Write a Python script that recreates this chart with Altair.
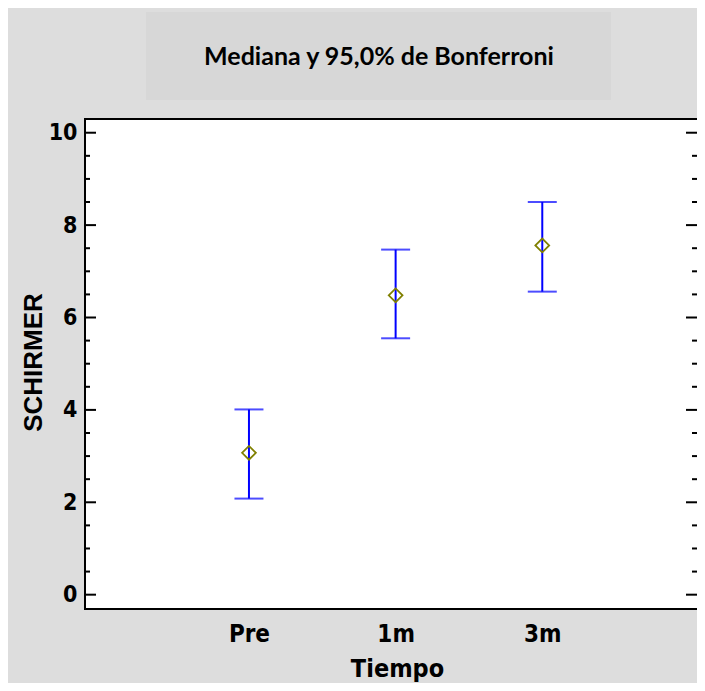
import altair as alt
import pandas as pd

# ---- data ----
categories = ["Pre", "1m", "3m"]
positions = [1, 2, 3]
medians = [3.07, 6.48, 7.56]
lower = [2.08, 5.55, 6.56]
upper = [4.01, 7.47, 8.50]
major_ticks = [0, 2, 4, 6, 8, 10]
minor_ticks = [0.5, 1, 1.5, 2.5, 3, 3.5, 4.5, 5, 5.5, 6.5, 7, 7.5, 8.5, 9, 9.5]
title_text = "Mediana y 95,0% de Bonferroni"
x_title = "Tiempo"
y_title = "SCHIRMER"

df = pd.DataFrame({"cat": categories, "pos": positions, "med": medians,
                   "lo": lower, "hi": upper})
major_df = pd.DataFrame({"v": major_ticks})
minor_df = pd.DataFrame({"v": minor_ticks})
one = pd.DataFrame({"a": [0]})

W, H = 612, 490
NARROW = "Liberation Sans Narrow, Arial Narrow, DejaVu Sans Condensed, Liberation Sans, sans-serif"
SANS = "Liberation Sans, Arial, sans-serif"

xscale = alt.Scale(domain=[-0.118, 4.055], nice=False, zero=False)
yscale = alt.Scale(domain=[-0.31, 10.297], nice=False, zero=False)

label_expr = " : ".join(
    [f"datum.value == {p} ? '{c}'" for p, c in zip(positions, categories)]
) + " : ''"

x_enc = alt.X("pos:Q", scale=xscale, axis=alt.Axis(
    values=positions, labelExpr=label_expr, title=x_title,
    ticks=False, tickSize=0, domain=False, grid=False,
    labelFont=NARROW, labelFontSize=24, labelFontWeight="bold", labelColor="black",
    labelBaseline="middle", labelPadding=25,
    titleFont=NARROW, titleFontSize=25, titleFontWeight="bold", titleColor="black",
    titleX=312, titleY=59, titleBaseline="middle"))

y_enc = alt.Y("med:Q", scale=yscale, axis=alt.Axis(
    values=major_ticks, title=y_title,
    ticks=False, tickSize=0, domain=False, grid=False,
    labelFont=NARROW, labelFontSize=23, labelFontWeight="bold", labelColor="black",
    labelPadding=8,
    titleFont=SANS, titleFontSize=26, titleFontWeight="bold", titleColor="black",
    titleX=-39, titleY=243, titleAngle=-90, titleBaseline="bottom"))

base = alt.Chart(df)
BLUE = "#0000ff"

stem = base.mark_rule(color=BLUE, strokeWidth=2).encode(x=x_enc, y=alt.Y("lo:Q", scale=yscale), y2="hi:Q")
cap_lo = base.mark_tick(orient="horizontal", color=BLUE, thickness=2, size=29).encode(
    x=alt.X("pos:Q", scale=xscale), y=alt.Y("lo:Q", scale=yscale))
cap_hi = base.mark_tick(orient="horizontal", color=BLUE, thickness=2, size=29).encode(
    x=alt.X("pos:Q", scale=xscale), y=alt.Y("hi:Q", scale=yscale))
pts = base.mark_point(shape="diamond", size=190, filled=False, color="#808000",
                      strokeWidth=1.8, opacity=1).encode(x=alt.X("pos:Q", scale=xscale), y=y_enc)

def tick_layer(d, x0, x1):
    return alt.Chart(d).mark_rule(color="black", strokeWidth=2).encode(
        y=alt.Y("v:Q", scale=yscale), x=alt.value(x0), x2=alt.value(x1))

ticks = [
    tick_layer(major_df, 0, 11), tick_layer(major_df, W - 11, W),
    tick_layer(minor_df, 0, 5), tick_layer(minor_df, W - 5, W),
]

frame_left = alt.Chart(one).mark_rule(color="black", strokeWidth=2).encode(
    x=alt.value(0), y=alt.value(0), y2=alt.value(H))
frame_top = alt.Chart(one).mark_rule(color="black", strokeWidth=2).encode(
    x=alt.value(-1), x2=alt.value(W), y=alt.value(0))
frame_bot = alt.Chart(one).mark_rule(color="black", strokeWidth=2).encode(
    x=alt.value(-1), x2=alt.value(W), y=alt.value(H))

title_box = alt.Chart(one).mark_rect(color="#d7d7d7").encode(
    x=alt.value(61), x2=alt.value(526), y=alt.value(-107), y2=alt.value(-19))
title = alt.Chart(pd.DataFrame({"t": [title_text]})).mark_text(
    font="Lato", fontSize=25, fontWeight="bold", color="black",
    align="center", baseline="middle").encode(
    text="t:N", x=alt.value(294), y=alt.value(-62))

chart = alt.layer(
    title_box, title, stem, cap_lo, cap_hi, pts, *ticks, frame_left, frame_top, frame_bot
).properties(
    width=W, height=H,
    padding={"left": 77, "top": 111, "right": 0, "bottom": 74},
    autosize=alt.AutoSizeParams(type="none"),
    background="#dddddd",
).configure_view(fill="white", stroke=None)

chart.save("out.html", embed_options={"renderer": "svg", "actions": False})
